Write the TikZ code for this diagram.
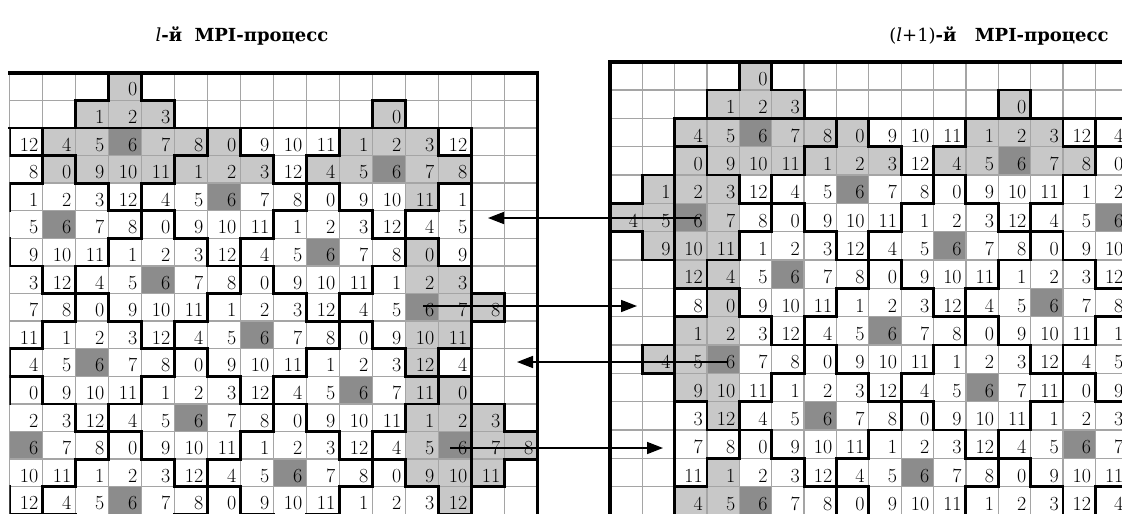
\documentclass[tikz,border=0pt]{standalone}
\usepackage{fontspec}
\newfontfamily\titlefont{DejaVu Serif}
\usetikzlibrary{arrows.meta}
\definecolor{lightc}{RGB}{200,200,200}
\definecolor{darkc}{RGB}{140,140,140}
\definecolor{thinc}{RGB}{165,165,165}
\def\leftrows{0/3/{0}, 1/2/{1,2,3}, 1/11/{0},
 2/0/{12,4,5,6,7,8,0,9,10,11,1,2,3,12},
 3/0/{8,0,9,10,11,1,2,3,12,4,5,6,7,8},
 4/0/{1,2,3,12,4,5,6,7,8,0,9,10,11,1},
 5/0/{5,6,7,8,0,9,10,11,1,2,3,12,4,5},
 6/0/{9,10,11,1,2,3,12,4,5,6,7,8,0,9},
 7/0/{3,12,4,5,6,7,8,0,9,10,11,1,2,3},
 8/0/{7,8,0,9,10,11,1,2,3,12,4,5,6,7,8},
 9/0/{11,1,2,3,12,4,5,6,7,8,0,9,10,11},
 10/0/{4,5,6,7,8,0,9,10,11,1,2,3,12,4},
 11/0/{0,9,10,11,1,2,3,12,4,5,6,7,11,0},
 12/0/{2,3,12,4,5,6,7,8,0,9,10,11,1,2,3},
 13/0/{6,7,8,0,9,10,11,1,2,3,12,4,5,6,7,8},
 14/0/{10,11,1,2,3,12,4,5,6,7,8,0,9,10,11},
 15/0/{12,4,5,6,7,8,0,9,10,11,1,2,3,12}}
\def\rightrows{0/4/{0}, 1/3/{1,2,3}, 1/12/{0},
 2/2/{4,5,6,7,8,0,9,10,11,1,2,3,12,4},
 3/2/{0,9,10,11,1,2,3,12,4,5,6,7,8,0},
 4/1/{1,2,3,12,4,5,6,7,8,0,9,10,11,1,2},
 5/0/{4,5,6,7,8,0,9,10,11,1,2,3,12,4,5,6},
 6/1/{9,10,11,1,2,3,12,4,5,6,7,8,0,9,10},
 7/2/{12,4,5,6,7,8,0,9,10,11,1,2,3,12},
 8/2/{8,0,9,10,11,1,2,3,12,4,5,6,7,8},
 9/2/{1,2,3,12,4,5,6,7,8,0,9,10,11,1},
 10/1/{4,5,6,7,8,0,9,10,11,1,2,3,12,4,5},
 11/2/{9,10,11,1,2,3,12,4,5,6,7,11,0,9},
 12/2/{3,12,4,5,6,7,8,0,9,10,11,1,2,3},
 13/2/{7,8,0,9,10,11,1,2,3,12,4,5,6,7},
 14/2/{11,1,2,3,12,4,5,6,7,8,0,9,10,11},
 15/2/{4,5,6,7,8,0,9,10,11,1,2,3,12,4}}
\def\leftlight{3/0, 2/1,3/1,4/1,11/1, 1/2,2/2,4/2,5/2,6/2,10/2,11/2,12/2,
 1/3,2/3,3/3,4/3,5/3,6/3,7/3,9/3,10/3,12/3,13/3, 12/4, 12/6, 12/7,13/7,
 13/8,14/8, 12/9,13/9, 12/10, 12/11,13/11, 12/12,13/12,14/12,
 12/13,14/13,15/13, 12/14,13/14,14/14, 13/15}
\def\rightlight{4/0, 3/1,4/1,5/1,12/1, 2/2,3/2,5/2,6/2,7/2,11/2,12/2,13/2,
 2/3,3/3,4/3,5/3,6/3,7/3,8/3,10/3,11/3,13/3,14/3, 1/4,2/4,3/4,
 0/5,1/5,3/5, 1/6,2/6,3/6, 2/7,3/7, 3/8, 2/9,3/9, 1/10,2/10,
 2/11,3/11, 3/12, 3/14, 2/15,3/15}
\newcommand\diamondtile[2]{%
 \draw[tilel] (#1,#2-2) -- ++(1,0) -- ++(0,1) -- ++(1,0) -- ++(0,1) -- ++(1,0)
  -- ++(0,1) -- ++(-1,0) -- ++(0,1) -- ++(-1,0) -- ++(0,1) -- ++(-1,0)
  -- ++(0,-1) -- ++(-1,0) -- ++(0,-1) -- ++(-1,0) -- ++(0,-1) -- ++(1,0)
  -- ++(0,-1) -- ++(1,0) -- cycle;}
\newcommand\lit{{\mdseries\itshape l}}
\begin{document}
\begin{tikzpicture}[x=1pt,y=-1pt,
  num/.style={anchor=base east, inner sep=0pt, font=\fontsize{20}{20}\selectfont, xshift=-4pt, yshift=4.5pt},
  gridl/.style={draw=thinc, line width=1.3pt},
  tilel/.style={line width=2.8pt, line join=miter, line cap=rect},
  framel/.style={line width=3.6pt, line cap=rect},
  arr/.style={line width=1.6pt, -{Triangle[length=16pt,width=12pt]}},
  ttl/.style={font=\titlefont\bfseries\fontsize{18}{18}\selectfont, anchor=base}]
\useasboundingbox (0,0) rectangle (1122,514);
% ---------- left grid ----------
\begin{scope}[shift={(9.5,72.7)}, x=33pt, y=-27.6pt]
 \foreach \c/\r in \leftlight {\fill[lightc] (\c,\r) rectangle ++(1,1);}
 \foreach \r/\s/\vals in \leftrows {
  \foreach \n [count=\i from \s] in \vals {
   \ifnum\n=6 \fill[darkc] (\i,\r) rectangle ++(1,1);\fi}}
 \foreach \c in {0,...,16} {\draw[gridl] (\c,0) -- (\c,16.3);}
 \foreach \r in {1,...,16} {\draw[gridl] (0,\r) -- (16,\r);}
 \begin{scope}
  \clip (0,2) rectangle (14,17);
  \foreach \R in {0,...,18} {
   \pgfmathtruncatemacro\cz{mod(130-5*\R,13)}
   \foreach \k in {-1,0,1} {
    \pgfmathtruncatemacro\C{\cz+13*\k}
    \diamondtile{\C}{\R}}}
 \end{scope}
 \draw[tilel] (3,0) -- (4,0) -- (4,1) -- (5,1) -- (5,2) -- (2,2) -- (2,1) -- (3,1) -- cycle;
 \draw[tilel] (11,1) rectangle (12,2);
 \draw[tilel] (14,8) rectangle (15,9);
 \draw[tilel] (14,12) -- (15,12) -- (15,13) -- (16,13) -- (16,14) -- (15,14) -- (15,15) -- (14,15) -- cycle;
 \draw[tilel] (0,2) -- (14,2) -- (14,16.3);
 \draw[framel] (0,0) -- (16,0) -- (16,16.3);
 \foreach \r/\s/\vals in \leftrows {
  \foreach \n [count=\i from \s] in \vals {
   \node[num] (L-\r-\i) at (\i+1,\r+1) {\n};}}
\end{scope}
% ---------- right grid ----------
\begin{scope}[shift={(610,61.7)}, x=32.35pt, y=-28.33pt]
 \foreach \c/\r in \rightlight {\fill[lightc] (\c,\r) rectangle ++(1,1);}
 \foreach \r/\s/\vals in \rightrows {
  \foreach \n [count=\i from \s] in \vals {
   \ifnum\n=6 \fill[darkc] (\i,\r) rectangle ++(1,1);\fi}}
 \foreach \c in {0,...,16} {\draw[gridl] (\c,0) -- (\c,16.3);}
 \foreach \r in {1,...,16} {\draw[gridl] (0,\r) -- (16.5,\r);}
 \begin{scope}
  \clip (2,2) rectangle (17,17);
  \foreach \R in {0,...,18} {
   \pgfmathtruncatemacro\cz{mod(131-5*\R,13)}
   \foreach \k in {-1,0,1} {
    \pgfmathtruncatemacro\C{\cz+13*\k}
    \diamondtile{\C}{\R}}}
 \end{scope}
 \draw[tilel] (4,0) -- (5,0) -- (5,1) -- (6,1) -- (6,2) -- (3,2) -- (3,1) -- (4,1) -- cycle;
 \draw[tilel] (12,1) rectangle (13,2);
 \draw[tilel] (1,4) -- (2,4) -- (2,7) -- (1,7) -- (1,6) -- (0,6) -- (0,5) -- (1,5) -- cycle;
 \draw[tilel] (1,10) rectangle (2,11);
 \draw[tilel] (2,16.3) -- (2,2) -- (16.5,2);
 \draw[framel] (0,16.3) -- (0,0) -- (16.5,0);
 \foreach \r/\s/\vals in \rightrows {
  \foreach \n [count=\i from \s] in \vals {
   \node[num] (R-\r-\i) at (\i+1,\r+1) {\n};}}
\end{scope}
% ---------- titles ----------
\node[ttl] (t1) at (242,41) {\lit-й\hspace{6pt} MPI-процесс};
\node[ttl] (t2) at (999,41) {{\mdseries(\lit+1)}-й\hspace{12pt} MPI-процесс};
% ---------- arrows ----------
\coordinate (a1s) at (700,218); \coordinate (a1e) at (488,218);
\coordinate (a2s) at (423,306); \coordinate (a2e) at (637,306);
\coordinate (a3s) at (728,362); \coordinate (a3e) at (517,362);
\coordinate (a4s) at (450,448); \coordinate (a4e) at (663,448);
\draw[arr] (a1s) -- (a1e);
\draw[arr] (a2s) -- (a2e);
\draw[arr] (a3s) -- (a3e);
\draw[arr] (a4s) -- (a4e);
\end{tikzpicture}
\end{document}
